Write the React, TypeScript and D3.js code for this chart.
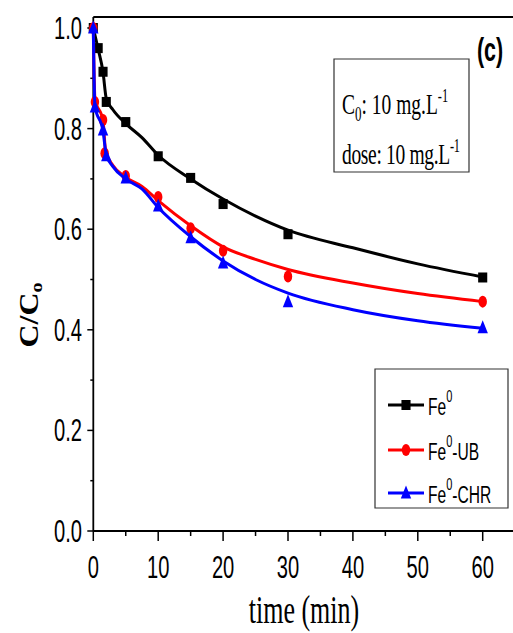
import React from 'react';
import * as d3 from 'd3';

// ---- data ----
const timesFe = [0, 0.75, 1.5, 2, 5, 10, 15, 20, 30, 60];
const valuesFe = [1.0, 0.96, 0.913, 0.853, 0.813, 0.745, 0.702, 0.65, 0.59, 0.504];
const timesUB = [0, 0.25, 1.5, 1.75, 5, 10, 15, 20, 30, 60];
const valuesUB = [1.0, 0.853, 0.817, 0.751, 0.706, 0.664, 0.602, 0.557, 0.506, 0.456];
const timesCHR = [0, 0.25, 1.5, 2, 5, 10, 15, 20, 30, 60];
const valuesCHR = [1.0, 0.843, 0.797, 0.746, 0.702, 0.646, 0.583, 0.533, 0.456, 0.404];

const fitTimesFe = [0, 0.75, 1.5, 2, 3, 5, 7.5, 10, 15, 20, 25, 30, 40, 50, 60];
const fitFe = [1.0, 0.958, 0.912, 0.86, 0.838, 0.81, 0.782, 0.747, 0.7, 0.66, 0.626, 0.598, 0.563, 0.531, 0.505];
const fitTimesUB = [0, 0.25, 1.5, 1.9, 3, 5, 7.5, 10, 15, 20, 25, 30, 40, 50, 60];
const fitUB = [1.0, 0.86, 0.815, 0.755, 0.727, 0.703, 0.685, 0.657, 0.607, 0.565, 0.54, 0.52, 0.493, 0.472, 0.456];
const fitTimesCHR = [0, 0.25, 1.5, 2, 3, 5, 7.5, 10, 15, 20, 25, 30, 40, 50, 60];
const fitCHR = [1.0, 0.845, 0.795, 0.748, 0.725, 0.7, 0.68, 0.643, 0.585, 0.537, 0.5, 0.473, 0.44, 0.418, 0.403];

const xTicks = [0, 10, 20, 30, 40, 50, 60];
const xMinor = [5, 15, 25, 35, 45, 55];
const yTicks = [0, 0.2, 0.4, 0.6, 0.8, 1.0];
const yMinor = [0.1, 0.3, 0.5, 0.7, 0.9];
const seriesNames = ['Fe', 'Fe', 'Fe'];
const seriesSuffix = ['', '-UB', '-CHR'];
const seriesColors = ['#000000', '#ff0000', '#0000ff'];

const K = 0.65; // horizontal compression of the reference
const sx = (px: number) => px / K;

export default function App() {
  const x = d3.scaleLinear().domain([0, 60]).range([sx(93.3), sx(482.7)]);
  const y = d3.scaleLinear().domain([0, 1]).range([531, 28]);
  const left = x(0);
  const right = sx(530);
  const top = 17;
  const bottom = y(0);

  const line = d3
    .line<[number, number]>()
    .x((d) => x(d[0]))
    .y((d) => y(d[1]))
    .curve(d3.curveMonotoneX);

  const series = [
    { t: timesFe, v: valuesFe, ft: fitTimesFe, fv: fitFe, shape: 'square' },
    { t: timesUB, v: valuesUB, ft: fitTimesUB, fv: fitUB, shape: 'circle' },
    { t: timesCHR, v: valuesCHR, ft: fitTimesCHR, fv: fitCHR, shape: 'triangle' },
  ];

  const marker = (shape: string, cx: number, cy: number, color: string, key: any) => {
    if (shape === 'square')
      return <rect key={key} x={cx - 7} y={cy - 5} width={14} height={10} fill={color} />;
    if (shape === 'circle')
      return <ellipse key={key} cx={cx} cy={cy} rx={6.5} ry={6} fill={color} />;
    return (
      <path key={key} d={`M${cx},${cy - 7.5} L${cx + 8},${cy + 5.5} L${cx - 8},${cy + 5.5} Z`} fill={color} />
    );
  };

  const ns = { vectorEffect: 'non-scaling-stroke' } as any;

  const legendRows = [405, 450, 493];

  return (
    <svg
      width={513}
      height={633}
      style={{ position: 'absolute', left: 0, top: 0, display: 'block', background: '#fff' }}
    >
      <rect x={0} y={0} width={513} height={633} fill="#fff" />
      <g transform={`scale(${K},1)`}>
        {/* frame */}
        <line x1={left} y1={top} x2={right} y2={top} stroke="#000" strokeWidth={2} style={ns} />
        <line x1={left} y1={top} x2={left} y2={bottom} stroke="#000" strokeWidth={1.8} style={ns} />
        <line x1={left} y1={bottom} x2={right} y2={bottom} stroke="#000" strokeWidth={2} style={ns} />
        {/* y ticks */}
        {yTicks.map((v) => (
          <g key={'yt' + v}>
            <line x1={left - sx(6)} x2={left} y1={y(v)} y2={y(v)} stroke="#000" strokeWidth={1.5} style={ns} />
            <text
              x={sx(82)}
              y={y(v) + 11}
              textAnchor="end"
              fontFamily="Liberation Sans, Arial, sans-serif"
              fontSize={31}
              fill="#000"
            >
              {v.toFixed(1)}
            </text>
          </g>
        ))}
        {yMinor.map((v) => (
          <line key={'ym' + v} x1={left - sx(3)} x2={left} y1={y(v)} y2={y(v)} stroke="#000" strokeWidth={1.5} style={ns} />
        ))}
        {/* x ticks */}
        {xTicks.map((t) => (
          <g key={'xt' + t}>
            <line x1={x(t)} x2={x(t)} y1={bottom} y2={bottom + 10} stroke="#000" strokeWidth={1.5} style={ns} />
            <text
              x={x(t)}
              y={578}
              textAnchor="middle"
              fontFamily="Liberation Sans, Arial, sans-serif"
              fontSize={31}
              fill="#000"
            >
              {t}
            </text>
          </g>
        ))}
        {xMinor.map((t) => (
          <line key={'xm' + t} x1={x(t)} x2={x(t)} y1={bottom} y2={bottom + 5} stroke="#000" strokeWidth={1.5} style={ns} />
        ))}
        <text
          x={sx(304)}
          y={623}
          textAnchor="middle"
          fontFamily="Liberation Serif, Times New Roman, serif"
          fontSize={40}
          fill="#000"
        >
          time (min)
        </text>

        {/* series */}
        {series.map((s, i) => (
          <g key={'s' + i}>
            <path
              d={line(s.ft.map((t, j) => [t, s.fv[j]] as [number, number])) || ''}
              fill="none"
              stroke={seriesColors[i]}
              strokeWidth={3}
              style={ns}
            />
            {s.t.map((t, j) => marker(s.shape, x(t), y(s.v[j]), seriesColors[i], j))}
          </g>
        ))}

        {/* (c) label */}
        <text
          x={sx(490)}
          y={61}
          textAnchor="middle"
          fontFamily="Liberation Sans, Arial, sans-serif"
          fontWeight="bold"
          fontSize={33}
          fill="#000"
        >
          (c)
        </text>

        {/* annotation box */}
        <rect x={sx(334)} y={59} width={sx(469) - sx(334)} height={113} fill="#fff" stroke="#333" strokeWidth={1.2} style={ns} />
        <text x={sx(342)} y={114} fontFamily="Liberation Serif, Times New Roman, serif" fontSize={30} fill="#000">
          C
          <tspan fontSize={20} dy={7}>0</tspan>
          <tspan dy={-7}>: 10 mg.L</tspan>
          <tspan fontSize={19} dy={-12}>-1</tspan>
        </text>
        <text x={sx(342)} y={164} fontFamily="Liberation Serif, Times New Roman, serif" fontSize={30} fill="#000" letterSpacing={-0.5}>
          dose: 10 mg.L
          <tspan fontSize={19} dy={-12}>-1</tspan>
        </text>

        {/* legend */}
        <rect x={sx(375)} y={369} width={sx(508) - sx(375)} height={139} fill="#fff" stroke="#333" strokeWidth={1.2} style={ns} />
        {legendRows.map((ry, i) => (
          <g key={'lg' + i}>
            <line x1={sx(388)} x2={sx(424)} y1={ry} y2={ry} stroke={seriesColors[i]} strokeWidth={3} style={ns} />
            {marker(series[i].shape, sx(406), ry, seriesColors[i], 'lm' + i)}
            <text x={sx(428)} y={ry + 10} fontFamily="Liberation Sans, Arial, sans-serif" fontSize={24} fill="#000">
              {seriesNames[i]}
              <tspan fontSize={17} dy={-13}>0</tspan>
              <tspan dy={13}>{seriesSuffix[i]}</tspan>
            </text>
          </g>
        ))}
      </g>

      {/* y axis title */}
      <text
        transform="translate(38,315) scale(0.85,1) rotate(-90)"
        textAnchor="middle"
        fontFamily="Liberation Serif, Times New Roman, serif"
        fontWeight="bold"
        fontSize={32}
        fill="#000"
      >
        C/C
        <tspan fontSize={20} dy={5}>o</tspan>
      </text>
    </svg>
  );
}
